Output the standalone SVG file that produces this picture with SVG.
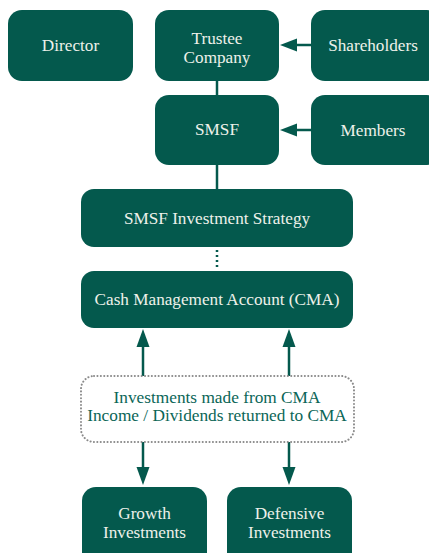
<svg xmlns="http://www.w3.org/2000/svg" width="429" height="553" viewBox="0 0 429 553">
  <defs>
    <style>
      .box { fill: #04594d; }
      .lbl { font-family: "Liberation Serif", "Times New Roman", serif; font-size: 17.2px; fill: #eef1ea; text-anchor: middle; }
      .note { font-family: "Liberation Serif", "Times New Roman", serif; font-size: 17.3px; fill: #0b6657; text-anchor: middle; }
      .wire { stroke: #04594d; stroke-width: 2.5; fill: none; }
      .dots { stroke: #04594d; stroke-width: 2.5; fill: none; stroke-dasharray: 2 3; }
      .head { fill: #04594d; }
    </style>
  </defs>
  <rect width="429" height="553" fill="#ffffff"/>

  <!-- connectors -->
  <g id="connectors">
    <line class="wire" x1="217" y1="80" x2="217" y2="96"/>
    <line class="wire" x1="217" y1="164" x2="217" y2="190"/>
    <line class="dots" x1="217" y1="250" x2="217" y2="270"/>
    <!-- Shareholders -> Trustee Company -->
    <line class="wire" x1="311" y1="45" x2="294" y2="45"/>
    <polygon class="head" points="280,45 297,38.5 297,51.5"/>
    <!-- Members -> SMSF -->
    <line class="wire" x1="311" y1="130" x2="294" y2="130"/>
    <polygon class="head" points="280,130 297,123.5 297,136.5"/>
    <!-- up to CMA -->
    <line class="wire" x1="143" y1="376" x2="143" y2="344"/>
    <polygon class="head" points="143,329 136.5,347 149.5,347"/>
    <line class="wire" x1="289" y1="376" x2="289" y2="344"/>
    <polygon class="head" points="289,329 282.5,347 295.5,347"/>
    <!-- down to investments -->
    <line class="wire" x1="143" y1="442" x2="143" y2="470"/>
    <polygon class="head" points="143,485 136.5,467 149.5,467"/>
    <line class="wire" x1="289" y1="442" x2="289" y2="470"/>
    <polygon class="head" points="289,485 282.5,467 295.5,467"/>
  </g>

  <g id="director">
    <rect class="box" x="8" y="10" width="125" height="71" rx="14"/>
    <text class="lbl" x="70.5" y="51">Director</text>
  </g>
  <g id="trustee">
    <rect class="box" x="155" y="10" width="124" height="71" rx="14"/>
    <text class="lbl" x="217" y="44">Trustee</text>
    <text class="lbl" x="217" y="63">Company</text>
  </g>
  <g id="shareholders">
    <rect class="box" x="311" y="10" width="130" height="71" rx="14"/>
    <text class="lbl" x="373" y="51">Shareholders</text>
  </g>
  <g id="smsf">
    <rect class="box" x="155" y="95" width="124" height="70" rx="14"/>
    <text class="lbl" x="217" y="135">SMSF</text>
  </g>
  <g id="members">
    <rect class="box" x="311" y="95" width="130" height="70" rx="14"/>
    <text class="lbl" x="373" y="136">Members</text>
  </g>
  <g id="strategy">
    <rect class="box" x="81" y="189" width="272" height="58" rx="13"/>
    <text class="lbl" x="217" y="224">SMSF Investment Strategy</text>
  </g>
  <g id="cma">
    <rect class="box" x="81" y="271" width="272" height="57" rx="13"/>
    <text class="lbl" x="217" y="305">Cash Management Account (CMA)</text>
  </g>
  <g id="flows">
    <rect x="81" y="376" width="273" height="66" rx="13" fill="none" stroke="#8a8a8a" stroke-width="2" stroke-dasharray="0.1 3.3" stroke-linecap="round"/>
    <text class="note" x="217" y="403">Investments made from CMA</text>
    <text class="note" x="217" y="421">Income / Dividends returned to CMA</text>
  </g>
  <g id="growth">
    <rect class="box" x="82" y="487" width="125" height="80" rx="14"/>
    <text class="lbl" x="144.5" y="519">Growth</text>
    <text class="lbl" x="144.5" y="538">Investments</text>
  </g>
  <g id="defensive">
    <rect class="box" x="227" y="487" width="125" height="80" rx="14"/>
    <text class="lbl" x="289.5" y="519">Defensive</text>
    <text class="lbl" x="289.5" y="538">Investments</text>
  </g>
</svg>
